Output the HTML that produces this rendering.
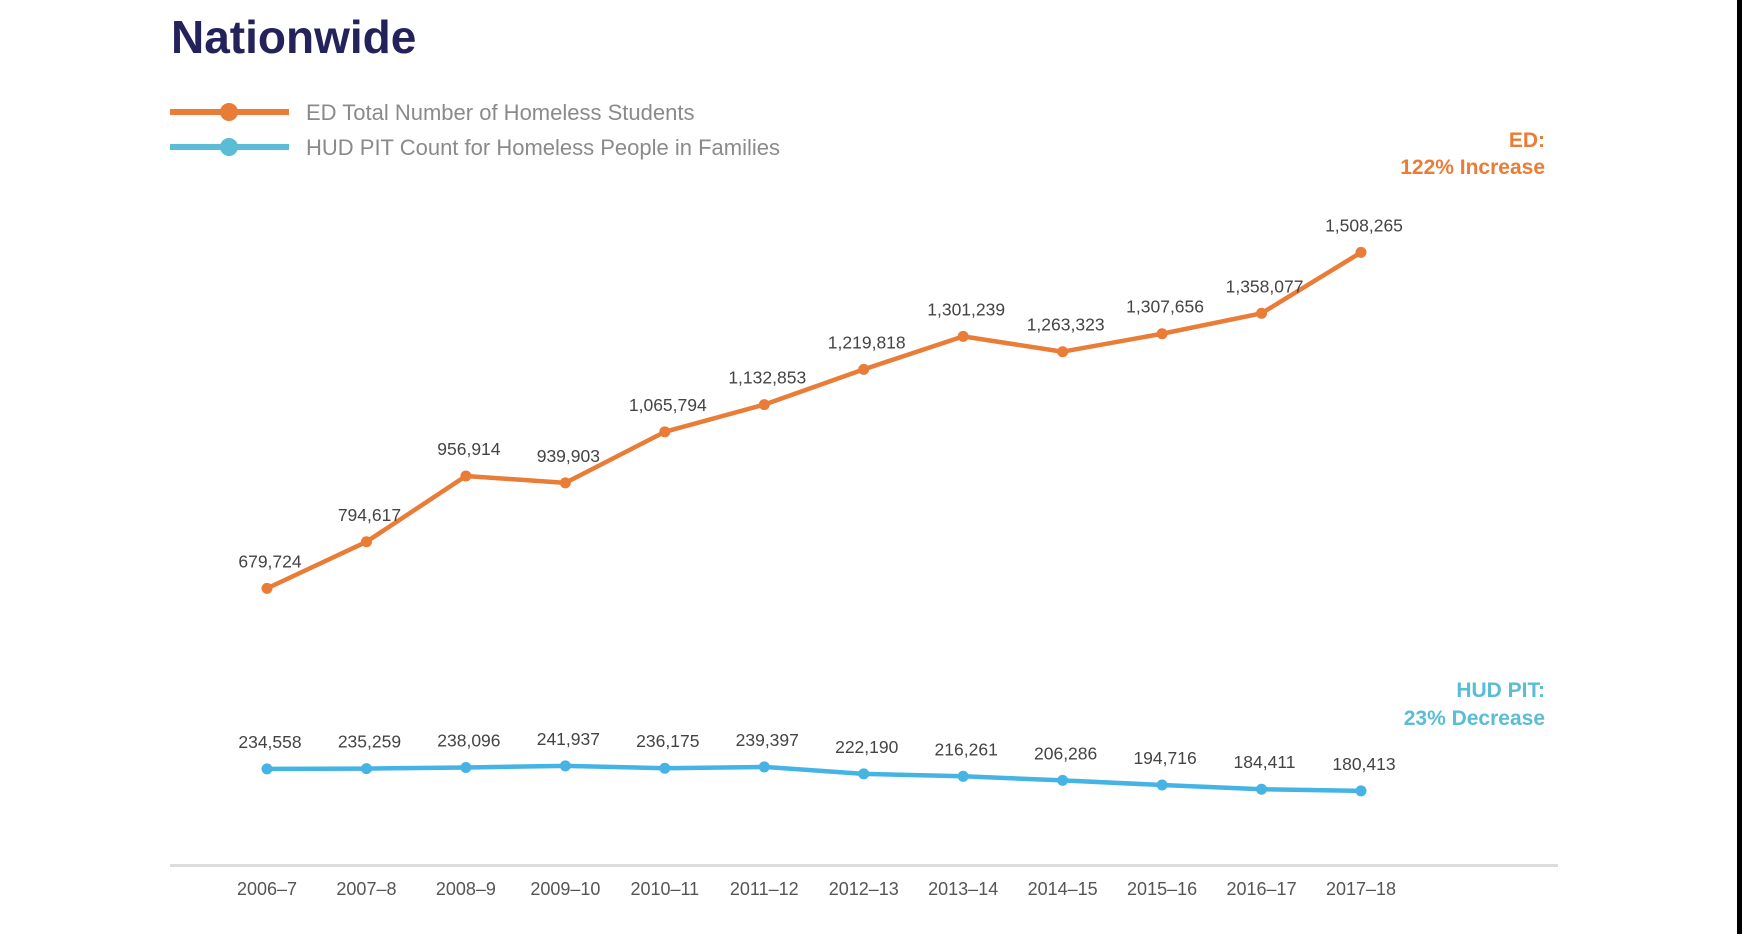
<!DOCTYPE html>
<html><head><meta charset="utf-8"><style>
html,body{margin:0;padding:0;background:#fff;}
body{width:1742px;height:934px;position:relative;overflow:hidden;font-family:"Liberation Sans",sans-serif;}
#edge{position:absolute;left:1737px;top:0;width:5px;height:934px;background:#000;}
</style></head><body>
<div id="edge"></div>
<svg id="chart" width="1742" height="934" style="position:absolute;left:0;top:0">
<text x="171" y="53" font-size="46" font-weight="bold" fill="#23225a" font-family="Liberation Sans, sans-serif">Nationwide</text>
<g>
<line x1="170" y1="112" x2="289" y2="112" stroke="#e97c36" stroke-width="6"/>
<circle cx="229" cy="112" r="9" fill="#e97c36"/>
<text x="306" y="120" font-size="22" fill="#8a8a8a">ED Total Number of Homeless Students</text>
</g>
<g>
<line x1="170" y1="147" x2="289" y2="147" stroke="#5bbcd6" stroke-width="6"/>
<circle cx="229" cy="147" r="9" fill="#5bbcd6"/>
<text x="306" y="155" font-size="22" fill="#8a8a8a">HUD PIT Count for Homeless People in Families</text>
</g>
<text x="1545" y="147" text-anchor="end" font-size="21" font-weight="bold" fill="#e97c36">ED:</text>
<text x="1545" y="174" text-anchor="end" font-size="21" font-weight="bold" fill="#e97c36">122% Increase</text>
<text x="1545" y="697" text-anchor="end" font-size="21" font-weight="bold" fill="#5bbcd6">HUD PIT:</text>
<text x="1545" y="725" text-anchor="end" font-size="21" font-weight="bold" fill="#5bbcd6">23% Decrease</text>
<line x1="170" y1="865.5" x2="1558" y2="865.5" stroke="#dcdcdc" stroke-width="3"/>
<g id="marks"></g>
</svg>
<script>
const categories=["2006–7","2007–8","2008–9","2009–10","2010–11","2011–12","2012–13","2013–14","2014–15","2015–16","2016–17","2017–18"];
const edValues=[679724,794617,956914,939903,1065794,1132853,1219818,1301239,1263323,1307656,1358077,1508265];
const hudValues=[234558,235259,238096,241937,236175,239397,222190,216261,206286,194716,184411,180413];
const NS="http://www.w3.org/2000/svg";
const g=document.getElementById('marks');
function xScale(i){return 267+i*(1361-267)/(categories.length-1);}
function yScale(v){return 864-v*0.0004055;}
function mk(tag,attrs){const e=document.createElementNS(NS,tag);for(const k in attrs)e.setAttribute(k,attrs[k]);g.appendChild(e);return e;}
function fmt(v){return v.toLocaleString('en-US');}
categories.forEach((c,i)=>{
  const t=mk('text',{x:xScale(i),y:895,'text-anchor':'middle','font-size':18,fill:'#555'});
  t.textContent=c;
  
  
});
function series(vals,color,name){
  const p=mk('polyline',{points:vals.map((v,i)=>xScale(i)+','+yScale(v)).join(' '),fill:'none',stroke:color,'stroke-width':4.5,'stroke-linejoin':'round'});
  
  
  vals.forEach((v,i)=>{
    const c=mk('circle',{cx:xScale(i),cy:yScale(v),r:5.5,fill:color});
    
    
    const t=mk('text',{x:xScale(i)+3,y:yScale(v)-21,'text-anchor':'middle','font-size':17.5,fill:'#444'});
    t.textContent=fmt(v);
    
    
  });
}
series(edValues,'#e97c36','ed-series');
series(hudValues,'#45b4e4','hud-series');
</script>
</body></html>
